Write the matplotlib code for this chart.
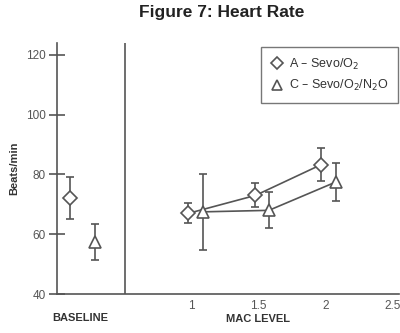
import matplotlib
matplotlib.use("Agg")
import matplotlib.pyplot as plt

plt.rcParams['font.family'] = ['Liberation Sans', 'DejaVu Sans']

# baseline values (placed left of the divider)
base_x = [0.10, 0.28]
base_y = [72.0, 57.5]
base_err = [7.0, 6.0]

# MAC level series
a_x = [0.98, 1.48, 1.97]
a_y = [67.0, 73.0, 83.3]
a_err = [3.3, 4.0, 5.5]

c_x = [1.09, 1.58, 2.08]
c_y = [67.5, 68.0, 77.5]
c_err = [12.8, 6.0, 6.5]

xticks = [1, 1.5, 2, 2.5]
yticks = [40, 60, 80, 100, 120]

col = '#555555'

fig = plt.figure(figsize=(4, 3.33), dpi=100)
ax = fig.add_axes([0.1425, 0.117, 0.855, 0.754])

ax.errorbar(a_x, a_y, yerr=a_err, color=col, marker='D', ms=7, mfc='white',
            mec=col, mew=1.2, lw=1.2, capsize=3, elinewidth=1.2, zorder=3)
ax.errorbar(c_x, c_y, yerr=c_err, color=col, marker='^', ms=8, mfc='white',
            mec=col, mew=1.2, lw=1.2, capsize=3, elinewidth=1.2, zorder=3)
ax.errorbar(base_x[0], base_y[0], yerr=base_err[0], color=col, marker='D', ms=7,
            mfc='white', mec=col, mew=1.2, capsize=3, elinewidth=1.2, ls='none', zorder=3)
ax.errorbar(base_x[1], base_y[1], yerr=base_err[1], color=col, marker='^', ms=8,
            mfc='white', mec=col, mew=1.2, capsize=3, elinewidth=1.2, ls='none', zorder=3)

ax.axvline(0.51, color=col, lw=1.2)

ax.set_xlim(0, 2.55)
ax.set_ylim(40, 124)
ax.set_xticks(xticks)
ax.set_xticklabels(['1', '1.5', '2', '2.5'])
ax.set_yticks(yticks)
ax.tick_params(axis='x', length=0, pad=4, labelsize=8.5, colors=col)
ax.tick_params(axis='y', direction='inout', length=12, width=1.2, labelsize=8.5, colors=col, pad=2)

for s in ['top', 'right']:
    ax.spines[s].set_visible(False)
for s in ['left', 'bottom']:
    ax.spines[s].set_color(col)
    ax.spines[s].set_linewidth(1.2)

ax.set_ylabel('Beats/min', fontsize=8, fontweight='bold', color='#333333', labelpad=5)
ax.text(0.17, 32.0, 'BASELINE', ha='center', va='center', fontsize=8,
        fontweight='bold', color='#333333')
ax.text(1.5, 31.5, 'MAC LEVEL', ha='center', va='center', fontsize=8,
        fontweight='bold', color='#333333')

fig.text(0.553, 0.962, 'Figure 7: Heart Rate', ha='center', va='center',
         fontsize=12.5, fontweight='bold', color='#222222')

# legend box
leg_handles = [
    plt.Line2D([], [], marker='D', ms=6.5, mfc='white', mec=col, mew=1.2, ls='none'),
    plt.Line2D([], [], marker='^', ms=7.5, mfc='white', mec=col, mew=1.2, ls='none'),
]
leg = ax.legend(leg_handles, ['A – Sevo/O$_2$', 'C – Sevo/O$_2$/N$_2$O'],
                loc='upper right', bbox_to_anchor=(0.998, 0.985), fontsize=9,
                frameon=True, fancybox=False, handletextpad=0.4, borderpad=0.8,
                borderaxespad=0.0, labelspacing=0.5, handlelength=1.0)
leg.get_frame().set_edgecolor(col)
leg.get_frame().set_linewidth(1.0)
for t in leg.get_texts():
    t.set_color('#333333')

fig.savefig('out.png', dpi=100)
